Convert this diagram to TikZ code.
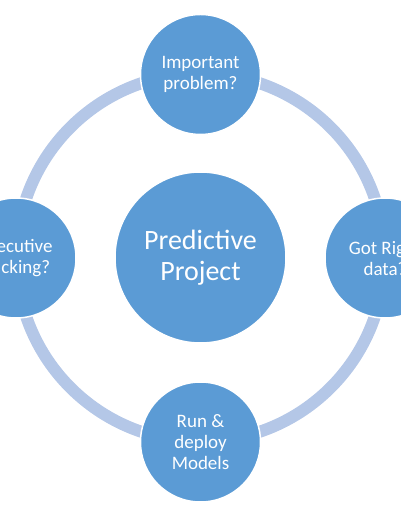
\documentclass[tikz,border=0pt]{standalone}
\usepackage{fontspec}
\setmainfont{Carlito}
\usepackage{tikz}
\definecolor{ballblue}{HTML}{5B9BD5}
\definecolor{ringblue}{HTML}{B4C7E7}

\begin{document}
\begin{tikzpicture}[x=1pt, y=1pt,
        ball/.style={circle, fill=ballblue, draw=white, line width=1.5pt, inner sep=0pt,
            minimum size=120pt, text=white, align=center, font=\fontsize{19}{21}\selectfont},
        hubball/.style={ball, minimum size=171pt, font=\fontsize{28}{31}\selectfont}]
        \useasboundingbox (0,0) rectangle (400,516);
        
        \coordinate (c) at (200.5,258.5);
        \draw[ringblue, line width=12pt] (c) circle (184);
        
        \node[hubball] (hub) at (c) {Predictive\\Project};
        
        \node[ball] (important) at (200.5,441.5) {Important\\problem?};
        \node[ball] (data) at (385,258) {Got Right\\data?};
        \node[ball] (deploy) at (200.5,74) {Run \&\\deploy\\Models};
        \node[ball] (backing) at (16,258) {Executive\\Backing?};
    \end{tikzpicture}
\end{document}
